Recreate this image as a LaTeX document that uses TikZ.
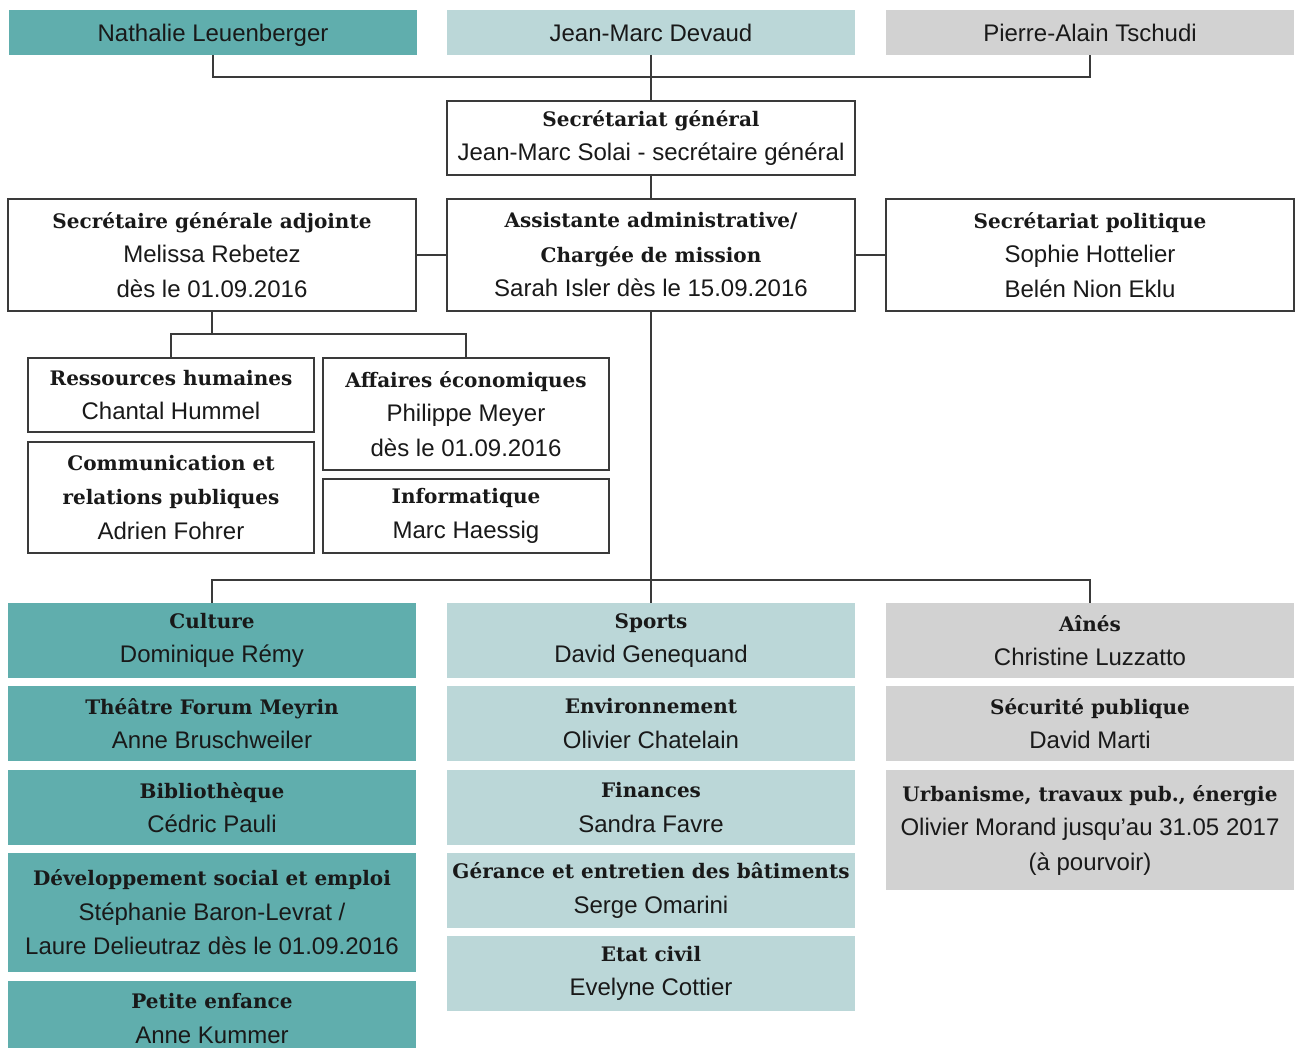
\documentclass[tikz,border=0pt]{standalone}
\usepackage{fontspec}
\setsansfont{Liberation Sans}
\newfontfamily\titlefont{DejaVu Serif}
\usetikzlibrary{positioning}
\definecolor{tealdark}{HTML}{60AEAD}
\definecolor{teallight}{HTML}{BBD7D8}
\definecolor{greylight}{HTML}{D2D2D2}
\definecolor{rule}{HTML}{3A3A3A}
\newcommand{\service}[1]{{\titlefont\bfseries\fontsize{10}{17.25}\selectfont #1}}

\begin{document}
\begin{tikzpicture}
            % Block styles
            \tikzstyle{box} = [rectangle, inner sep=0pt, outer sep=0pt, align=center, minimum width=204pt, minimum height=37.5pt, text=black!90, font=\sffamily\fontsize{12}{17.25}\selectfont]
            \tikzstyle{boxed} = [box, draw=rule, line width=0.75pt, fill=white]
            \tikzstyle{head} = [box, minimum height=22.5pt, text height=8.6pt, text depth=0pt]
            \tikzstyle{small} = [boxed, minimum width=143pt]
            \tikzstyle{link} = [draw=rule, line width=0.75pt]
            \useasboundingbox (-4.5pt,5pt) rectangle (645.5pt,-519pt);
            % Conseil administratif
            \node[head, fill=tealdark, anchor=north west] (nathalie) at (0,0) {Nathalie Leuenberger};
            \node[head, fill=teallight, right=15pt of nathalie] (devaud) {Jean-Marc Devaud};
            \node[head, fill=greylight, right=15.5pt of devaud] (tschudi) {Pierre-Alain Tschudi};
            % Secretariat
            \node[boxed, minimum height=37pt, below=23pt of devaud] (sg) {\service{Secrétariat général}\\Jean-Marc Solai - secrétaire général};
            \node[boxed, minimum height=56pt, below=12pt of sg] (assist) {\service{Assistante administrative/}\\\service{Chargée de mission}\\Sarah Isler dès le 15.09.2016};
            \node[boxed, minimum height=56pt, left=15.5pt of assist] (sga) {\service{Secrétaire générale adjointe}\\Melissa Rebetez\\dès le 01.09.2016};
            \node[boxed, minimum height=56pt, right=15.5pt of assist] (sp) {\service{Secrétariat politique}\\Sophie Hottelier\\Belén Nion Eklu};
            \node[small, minimum height=37pt, below right=23.5pt and 10pt of sga.south west] (rh) {\service{Ressources humaines}\\Chantal Hummel};
            \node[small, minimum height=56pt, below right=0pt and 4.5pt of rh.north east] (eco) {\service{Affaires économiques}\\Philippe Meyer\\dès le 01.09.2016};
            \node[small, minimum height=55.5pt, below=5pt of rh] (comm) {\service{Communication et}\\\service{relations publiques}\\Adrien Fohrer};
            \node[small, minimum height=37pt, below=4.5pt of eco] (info) {\service{Informatique}\\Marc Haessig};
            % Services
            \node[box, fill=tealdark, below=146pt of sga] (culture) {\service{Culture}\\Dominique Rémy};
            \node[box, fill=tealdark, below=4pt of culture] (theatre) {\service{Théâtre Forum Meyrin}\\Anne Bruschweiler};
            \node[box, fill=tealdark, below=4.5pt of theatre] (biblio) {\service{Bibliothèque}\\Cédric Pauli};
            \node[box, fill=tealdark, minimum height=59.5pt, below=4pt of biblio] (social) {\service{Développement social et emploi}\\Stéphanie Baron-Levrat /\\Laure Delieutraz dès le 01.09.2016};
            \node[box, fill=tealdark, below=4.5pt of social] (enfance) {\service{Petite enfance}\\Anne Kummer};
            \node[box, fill=teallight, below=146pt of assist] (sports) {\service{Sports}\\David Genequand};
            \node[box, fill=teallight, below=4pt of sports] (env) {\service{Environnement}\\Olivier Chatelain};
            \node[box, fill=teallight, below=4.5pt of env] (finances) {\service{Finances}\\Sandra Favre};
            \node[box, fill=teallight, below=4pt of finances] (gerance) {\service{Gérance et entretien des bâtiments}\\Serge Omarini};
            \node[box, fill=teallight, below=4pt of gerance] (civil) {\service{Etat civil}\\Evelyne Cottier};
            \node[box, fill=greylight, below=146pt of sp] (aines) {\service{Aînés}\\Christine Luzzatto};
            \node[box, fill=greylight, below=4pt of aines] (securite) {\service{Sécurité publique}\\David Marti};
            \node[box, fill=greylight, minimum height=60pt, below=4.5pt of securite] (urba) {\service{Urbanisme, travaux pub., énergie}\\Olivier Morand jusqu'au 31.05 2017\\(à pourvoir)};
            % Connections
            \draw[link] (nathalie.south) -- ++(0,-11pt) -| (tschudi.south);
            \draw[link] (devaud) -- (sg);
            \draw[link] (sg) -- (assist);
            \draw[link] (sga) -- (assist);
            \draw[link] (assist) -- (sp);
            \draw[link] (sga.south) -- ++(0,-11.5pt) coordinate (sgaj);
            \draw[link] (rh.north) |- (sgaj) -| (eco.north);
            \draw[link] (assist) -- (sports);
            \draw[link] (culture.north) -- ++(0,11.5pt) -| (aines.north);
        \end{tikzpicture}
\end{document}
